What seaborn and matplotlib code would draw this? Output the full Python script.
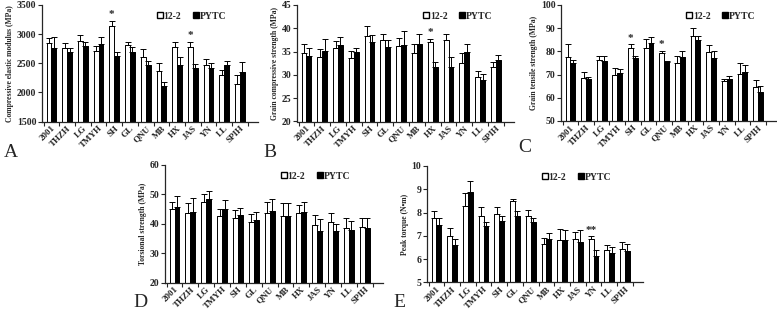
import numpy as np
import pandas as pd
import seaborn as sns
import matplotlib.pyplot as plt
from matplotlib.patches import Patch

# Varieties on the x axis
varieties = ['2001', 'THZH', 'LG', 'TMYH', 'SH', 'GL', 'QNU', 'MB', 'HX', 'JAS', 'YN', 'LL', 'SPIH']
groups = ['12-2', 'PYTC']

# A - compressive elastic modulus
a_white = [2855, 2769, 2877, 2718, 3140, 2815, 2615, 2369, 2775, 2786, 2472, 2300, 2140]
a_white_sd = [85, 75, 110, 75, 90, 57, 125, 130, 97, 86, 97, 86, 160]
a_black = [2757, 2689, 2803, 2826, 2632, 2689, 2472, 2118, 2472, 2415, 2415, 2472, 2358]
a_black_sd = [200, 80, 70, 130, 57, 97, 74, 68, 143, 74, 85, 74, 171]

# B - grain compressive strength
b_white = [34.8, 33.9, 35.7, 33.7, 38.4, 37.5, 36.3, 34.8, 37.0, 37.5, 32.6, 29.5, 31.6]
b_white_sd = [1.8, 1.6, 1.5, 1.5, 2.1, 1.3, 1.7, 1.8, 0.8, 1.3, 2.0, 1.3, 1.2]
b_black = [34.1, 35.1, 36.5, 34.9, 37.0, 35.9, 36.4, 36.7, 31.6, 31.6, 35.0, 28.8, 33.3]
b_black_sd = [1.6, 2.7, 1.7, 0.8, 1.5, 1.6, 3.0, 2.1, 1.2, 2.2, 1.7, 1.4, 0.9]

# C - grain tensile strength
c_white = [77.8, 68.5, 76.5, 70.0, 81.5, 81.4, 79.5, 74.8, 86.8, 79.7, 67.2, 70.2, 64.8]
c_white_sd = [5.5, 2.5, 1.5, 2.8, 1.5, 3.8, 0.8, 3.2, 3.2, 2.9, 0.8, 4.8, 2.9]
c_black = [75.0, 68.0, 75.8, 70.5, 77.3, 83.5, 75.5, 77.8, 85.0, 77.0, 68.2, 71.3, 62.6]
c_black_sd = [1.3, 1.0, 2.2, 1.8, 0.7, 2.5, 0.5, 2.5, 1.8, 3.3, 1.3, 2.7, 2.4]

# D - torsional strength
d_white = [45.0, 43.5, 47.3, 42.6, 41.8, 40.6, 43.5, 42.8, 43.5, 39.5, 40.5, 38.5, 39.0]
d_white_sd = [2.5, 3.5, 2.7, 2.4, 3.0, 2.6, 4.0, 4.2, 3.0, 3.5, 3.0, 3.5, 3.0]
d_black = [45.8, 44.0, 48.3, 45.0, 43.0, 41.3, 44.5, 42.5, 44.0, 37.5, 37.5, 38.0, 38.5]
d_black_sd = [3.7, 4.8, 2.7, 3.0, 2.3, 2.7, 4.0, 4.5, 3.5, 4.0, 2.5, 3.0, 3.5]

# E - peak torque
e_white = [7.75, 7.0, 8.3, 7.85, 7.95, 8.5, 7.85, 6.65, 6.8, 6.85, 6.85, 6.38, 6.45]
e_white_sd = [0.3, 0.35, 0.55, 0.4, 0.3, 0.1, 0.25, 0.25, 0.5, 0.3, 0.13, 0.24, 0.3]
e_black = [7.45, 6.6, 8.9, 7.4, 7.65, 7.85, 7.6, 6.85, 6.8, 6.75, 6.12, 6.24, 6.35]
e_black_sd = [0.3, 0.25, 0.45, 0.2, 0.2, 0.2, 0.15, 0.25, 0.45, 0.5, 0.26, 0.26, 0.3]

sns.set_style('ticks')
plt.rcParams['font.family'] = ['Liberation Serif', 'DejaVu Serif']
plt.rcParams['font.weight'] = 'bold'


def draw_panel(ax, white, white_sd, black, black_sd, ylim, step, ylabel, stars, leg_x):
    df = pd.DataFrame({
        'variety': varieties * 2,
        'group': ['12-2'] * len(varieties) + ['PYTC'] * len(varieties),
        'value': white + black,
    })
    sns.barplot(data=df, x='variety', y='value', hue='group', order=varieties,
                hue_order=groups, palette={'12-2': 'white', 'PYTC': 'black'},
                edgecolor='black', linewidth=0.7, width=0.62, legend=False, ax=ax)
    # error bars (upper only) on the bar centres
    sds = white_sd + black_sd
    xs = [p.get_x() + p.get_width() / 2 for p in ax.patches]
    hs = [p.get_height() for p in ax.patches]
    ax.errorbar(xs, hs, yerr=[np.zeros(len(sds)), sds], fmt='none', ecolor='black',
                elinewidth=0.7, capsize=2, capthick=0.7, zorder=1)
    # significance marks above the 12-2 bars
    for name, mark in stars.items():
        i = varieties.index(name)
        ax.annotate(mark, (xs[i], hs[i] + sds[i]), xytext=(0, 1), textcoords='offset points',
                    ha='center', va='bottom', fontsize=8, fontweight='bold')
    ax.set_ylim(*ylim)
    ax.set_yticks(np.arange(ylim[0], ylim[1] + step / 2, step))
    ax.set_xlim(-0.6, 13.15)
    ax.set_xticks(np.arange(-0.5, 13, 1), minor=True)
    ax.tick_params(axis='x', which='major', length=0, pad=2)
    ax.tick_params(axis='x', which='minor', length=3, width=0.8)
    ax.tick_params(axis='y', length=3, width=0.8, labelsize=7, pad=1)
    ax.set_xticklabels(varieties, rotation=45, ha='right', rotation_mode='anchor', fontsize=6.5)
    ax.set_xlabel('')
    ax.set_ylabel(ylabel, fontsize=5.5, fontweight='bold', labelpad=2)
    sns.despine(ax=ax)
    for s in ['left', 'bottom']:
        ax.spines[s].set_linewidth(0.9)
    handles = [Patch(facecolor='white', edgecolor='black', label='12-2'),
               Patch(facecolor='black', edgecolor='black', label='PYTC')]
    ax.legend(handles=handles, ncol=2, loc='upper left', bbox_to_anchor=(leg_x, 1.0),
              frameon=False, fontsize=7, handlelength=0.6, handleheight=0.6,
              handletextpad=0.1, columnspacing=1.2, borderaxespad=0.3)


W, H = 777, 315
fig = plt.figure(figsize=(W / 100, H / 100), dpi=100)


def add_axes(x0, x1, y0, y1):
    return fig.add_axes([x0 / W, 1 - y1 / H, (x1 - x0) / W, (y1 - y0) / H])


ax_a = add_axes(42, 258, 5, 121.5)
ax_b = add_axes(297, 514, 5, 121.5)
ax_c = add_axes(561, 776, 5, 121)
ax_d = add_axes(165, 383, 165, 282.5)
ax_e = add_axes(427, 643, 166, 282.3)

draw_panel(ax_a, a_white, a_white_sd, a_black, a_black_sd, (1500, 3500), 500,
           'Compressive elastic modulus (MPa)', {'SH': '*', 'JAS': '*'}, 0.5)
draw_panel(ax_b, b_white, b_white_sd, b_black, b_black_sd, (20, 45), 5,
           'Grain compressive strength (MPa)', {'HX': '*'}, 0.55)
draw_panel(ax_c, c_white, c_white_sd, c_black, c_black_sd, (50, 100), 10,
           'Grain tensile strength (MPa)', {'SH': '*', 'QNU': '*'}, 0.55)
draw_panel(ax_d, d_white, d_white_sd, d_black, d_black_sd, (20, 60), 10,
           'Torsional strength (MPa)', {}, 0.5)
draw_panel(ax_e, e_white, e_white_sd, e_black, e_black_sd, (5, 10), 1,
           'Peak torque (N\u2022m)', {'YN': '**'}, 0.5)

# panel letters
for letter, x, y in [('A', 4, 157), ('B', 263, 157), ('C', 518, 152), ('D', 133, 307), ('E', 393, 307)]:
    fig.text(x / W, 1 - y / H, letter, fontsize=14, fontweight='normal', ha='left', va='baseline')

plt.savefig('out.png', dpi=100)
